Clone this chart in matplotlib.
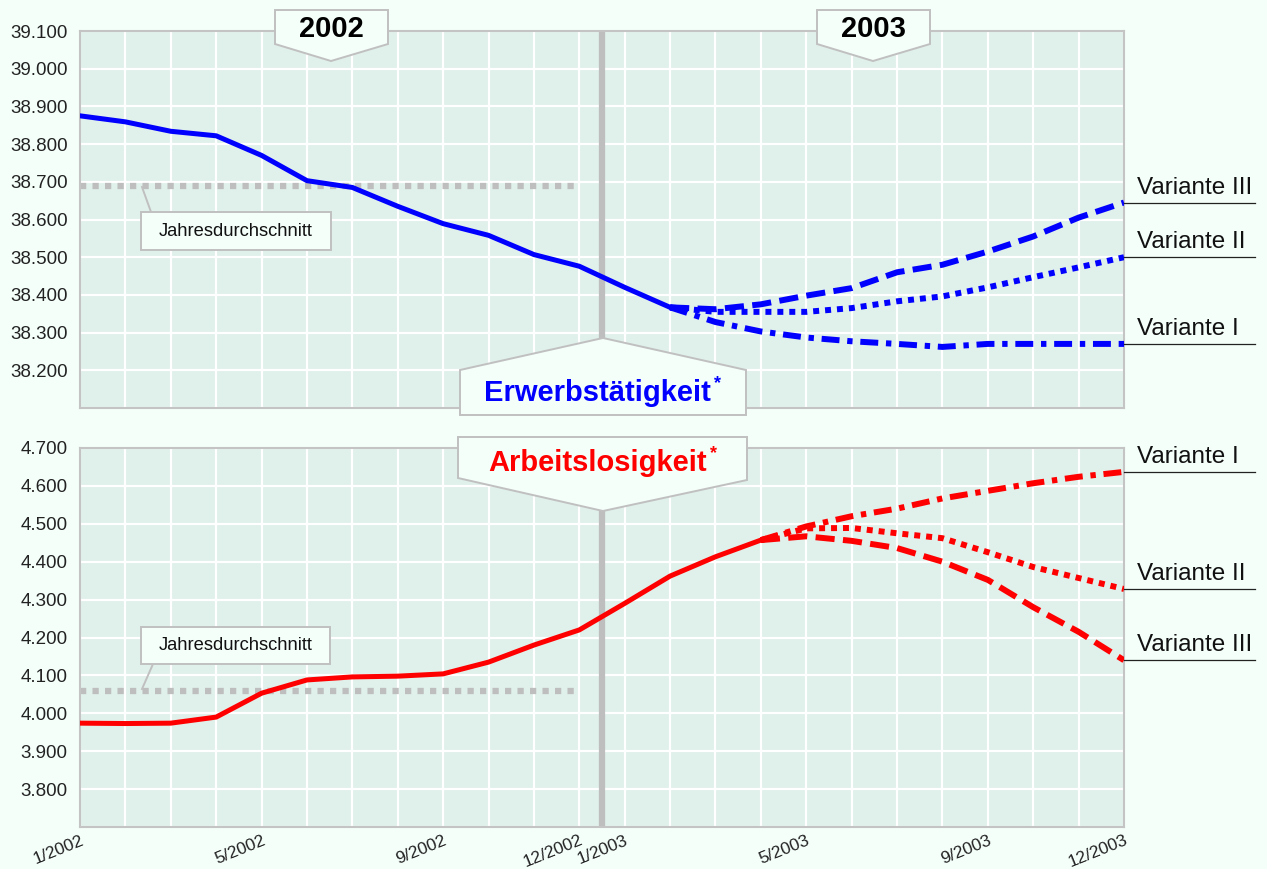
import numpy as np
import matplotlib
matplotlib.use("Agg")
import matplotlib.pyplot as plt
from matplotlib.patches import Polygon
from matplotlib.lines import Line2D
import matplotlib.transforms as mtransforms

plt.rcParams['font.family'] = ['Liberation Sans', 'DejaVu Sans']

# DATA (in 1000 persons), month index 0 = 1/2002 ... 23 = 12/2003
tick_idx = [0, 4, 8, 11, 12, 16, 20, 23]
tick_labels = ["1/2002", "5/2002", "9/2002", "12/2002", "1/2003", "5/2003", "9/2003", "12/2003"]

erwerb = [38875, 38859, 38834, 38822, 38770, 38703, 38685, 38635,
          38589, 38558, 38507, 38476, 38420, 38367]
erwerb_v1 = [38367, 38328, 38303, 38287, 38277, 38270, 38262, 38270, 38270, 38270, 38270]
erwerb_v2 = [38367, 38355, 38355, 38355, 38365, 38383, 38396, 38420, 38447, 38473, 38500]
erwerb_v3 = [38367, 38362, 38375, 38398, 38418, 38460, 38480, 38515, 38555, 38605, 38645]
erwerb_avg = 38690

arbeit = [3974, 3973, 3974, 3990, 4053, 4088, 4096, 4098,
          4104, 4135, 4180, 4220, 4290, 4362, 4413, 4457]
arbeit_v1 = [4457, 4493, 4520, 4540, 4567, 4587, 4607, 4624, 4637]
arbeit_v2 = [4457, 4488, 4489, 4475, 4462, 4425, 4386, 4357, 4328]
arbeit_v3 = [4457, 4467, 4455, 4436, 4400, 4352, 4280, 4215, 4140]
arbeit_avg = 4060

W, H = 1267, 869
BG = "#F4FFFA"
AXBG = "#E0F0EA"
GRAY = "#BEBEBE"

fig = plt.figure(figsize=(W / 100, H / 100), dpi=100, facecolor=BG)
ax1 = fig.add_axes([80 / W, 1 - 408 / H, 1044 / W, 377 / H])
ax2 = fig.add_axes([80 / W, 1 - 827 / H, 1044 / W, 379 / H])

# pixel transform (origin top-left) for the decorations
T = mtransforms.Affine2D().scale(1 / W, -1 / H).translate(0, 1) + fig.transFigure


def fmt(v):
    return f"{v:,.0f}".replace(",", ".")


def setup(ax, ylo, yhi, yticks):
    ax.set_facecolor(AXBG)
    ax.set_xlim(0, 23)
    ax.set_ylim(ylo, yhi)
    ax.set_xticks(range(24))
    ax.set_yticks(np.arange(ylo, yhi + 1, 100))
    ax.set_yticklabels(["" if v < yticks else fmt(v) for v in np.arange(ylo, yhi + 1, 100)])
    ax.grid(True, color="white", lw=1.6)
    ax.set_axisbelow(True)
    ax.tick_params(length=0, labelsize=13.5, colors="#222222", pad=9)
    for s in ax.spines.values():
        s.set_color("#C4C4C4")
        s.set_linewidth(1.5)
    ax.axvline(11.5, color=GRAY, lw=4.5, zorder=1.5)


setup(ax1, 38100, 39100, 38200)
setup(ax2, 3700, 4700, 3800)
ax1.set_xticklabels([])
labels = [""] * 24
for i, t in zip(tick_idx, tick_labels):
    labels[i] = t
ax2.set_xticklabels(labels, rotation=22, ha="right", va="top",
                    rotation_mode="anchor", fontsize=12.5)
ax2.tick_params(axis="x", pad=4)

dash = (0, (3.2, 1.4))
dot = (0, (1, 1))
dashdot = (0, (3, 1.3, 0.9, 1.3))
lw = 4.3

# Erwerbstaetigkeit
x_act = np.arange(len(erwerb))
x_var = np.arange(len(erwerb) - 1, 24)
ax1.plot(range(12), [erwerb_avg] * 12, color=GRAY, lw=4.5, ls=dot, zorder=2)
ax1.plot(x_act, erwerb, color="#0000FF", lw=3.6, zorder=3)
ax1.plot(x_var, erwerb_v1, color="#0000FF", lw=lw, ls=dashdot, zorder=3)
ax1.plot(x_var, erwerb_v2, color="#0000FF", lw=lw, ls=dot, zorder=3)
ax1.plot(x_var, erwerb_v3, color="#0000FF", lw=lw, ls=dash, zorder=3)

# Arbeitslosigkeit
x_act2 = np.arange(len(arbeit))
x_var2 = np.arange(len(arbeit) - 1, 24)
ax2.plot(range(12), [arbeit_avg] * 12, color=GRAY, lw=4.5, ls=dot, zorder=2)
ax2.plot(x_act2, arbeit, color="#FF0000", lw=3.6, zorder=3)
ax2.plot(x_var2, arbeit_v1, color="#FF0000", lw=lw, ls=dashdot, zorder=3)
ax2.plot(x_var2, arbeit_v2, color="#FF0000", lw=lw, ls=dot, zorder=3)
ax2.plot(x_var2, arbeit_v3, color="#FF0000", lw=lw, ls=dash, zorder=3)

# variant labels with underline at the end value
for ax, names, series in [(ax1, ["Variante I", "Variante II", "Variante III"], [erwerb_v1, erwerb_v2, erwerb_v3]),
                          (ax2, ["Variante I", "Variante II", "Variante III"], [arbeit_v1, arbeit_v2, arbeit_v3])]:
    for name, s in zip(names, series):
        ax.plot([23, 25.88], [s[-1], s[-1]], color="#222222", lw=0.9, clip_on=False, zorder=4)
        ax.annotate(name, xy=(23.28, s[-1]), xytext=(0, 6.5), textcoords="offset points",
                    va="baseline", ha="left", fontsize=17.5, color="#111111", annotation_clip=False)


def callout(pts, **kw):
    p = Polygon(pts, closed=True, transform=T, facecolor=BG, edgecolor="#C0C0C0",
                lw=1.4, zorder=5, **kw)
    fig.patches.append(p)


def ftext(x, y, s, **kw):
    fig.text(x / W, 1 - y / H, s, zorder=6, **kw)


# year markers
callout([(275, 10), (388, 10), (388, 44), (331, 61), (275, 44)])
ftext(331, 29, "2002", ha="center", va="center", fontsize=21, fontweight="bold")
callout([(817, 10), (930, 10), (930, 44), (873, 61), (817, 44)])
ftext(873, 29, "2003", ha="center", va="center", fontsize=21, fontweight="bold")

# series titles
callout([(603, 338), (746, 370), (746, 415), (460, 415), (460, 370)])
ftext(597, 393, "Erwerbstätigkeit", ha="center", va="center", fontsize=21,
      fontweight="bold", color="#0000FF")
ftext(717, 384, "*", ha="center", va="center", fontsize=13, fontweight="bold", color="#0000FF")
callout([(458, 437), (747, 437), (747, 480), (603, 511), (458, 478)])
ftext(598, 463, "Arbeitslosigkeit", ha="center", va="center", fontsize=21,
      fontweight="bold", color="#FF0000")
ftext(714, 454, "*", ha="center", va="center", fontsize=13, fontweight="bold", color="#FF0000")

# Jahresdurchschnitt callouts
for (bx0, by0, bx1, by1), (lx0, ly0, lx1, ly1) in [((141, 212, 331, 250), (142, 187, 151, 212)),
                                                   ((141, 627, 330, 664), (153, 664, 142, 689))]:
    callout([(bx0, by0), (bx1, by0), (bx1, by1), (bx0, by1)])
    fig.lines.append(Line2D([lx0, lx1], [ly0, ly1], transform=T, color="#C0C0C0", lw=1.4, zorder=5))
    ftext((bx0 + bx1) / 2, (by0 + by1) / 2, "Jahresdurchschnitt", ha="center", va="center",
          fontsize=13.2, color="#111111")

fig.savefig("out.png", dpi=100, facecolor=BG)
